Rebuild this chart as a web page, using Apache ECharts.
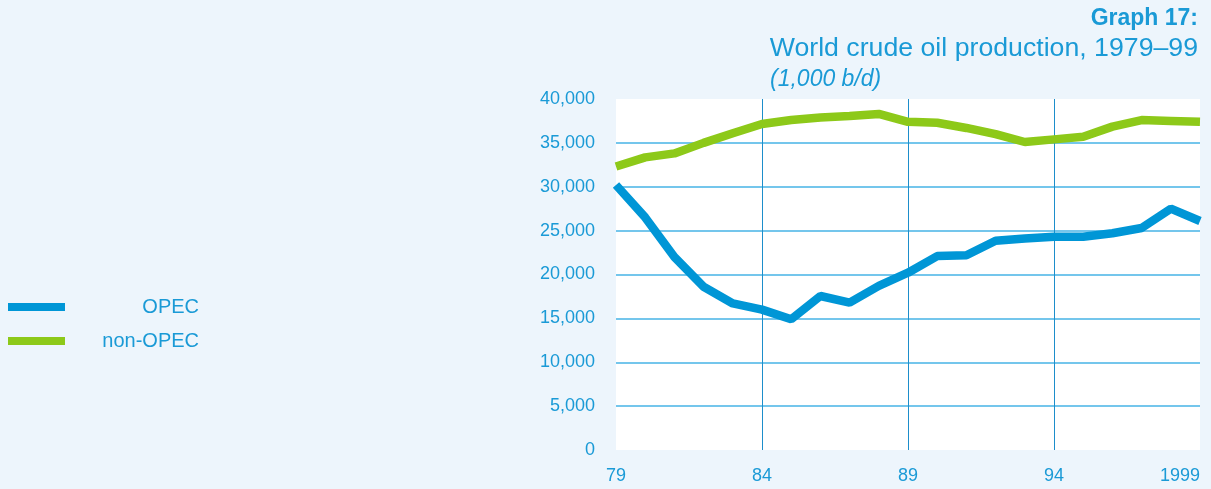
<!DOCTYPE html>
<html>
<head>
<meta charset="utf-8">
<script src="https://cdn.jsdelivr.net/npm/echarts@6/dist/echarts.min.js"></script>
<style>
html,body{margin:0;padding:0;background:#edf5fc;}
#chart{width:1211px;height:489px;}
</style>
</head>
<body>
<div id="chart"></div>
<script>
const years = [1979,1980,1981,1982,1983,1984,1985,1986,1987,1988,1989,1990,1991,1992,1993,1994,1995,1996,1997,1998,1999];
const opec = [30200,26500,22000,18600,16700,16000,14900,17550,16800,18700,20200,22100,22200,23850,24100,24300,24300,24700,25300,27500,26100];
const nonOpec = [32300,33350,33800,35000,36100,37150,37600,37900,38050,38300,37400,37300,36700,36000,35100,35400,35700,36850,37600,37500,37400];
const xTickYears = [1979,1984,1989,1994,1999];
const xTickLabels = ['79','84','89','94','1999'];
const seriesNames = ['OPEC','non-OPEC'];
const titleLines = ['Graph 17:','World crude oil production, 1979–99','(1,000 b/d)'];

const txt = '#1a9ad6';
const font = 'Liberation Sans, Arial, sans-serif';
const chart = echarts.init(document.getElementById('chart'));
chart.setOption({
  backgroundColor: '#edf5fc',
  animation: false,
  textStyle: {fontFamily: font},
  graphic: [
    {type:'text', right: 13, top: 7, style:{text: titleLines[0], fill: txt, font: 'bold 23px ' + font, textAlign:'right'}},
    {type:'text', right: 13, top: 35, style:{text: titleLines[1], fill: txt, font: '26.7px ' + font, textAlign:'right'}},
    {type:'text', left: 770, top: 68, style:{text: titleLines[2], fill: txt, font: 'italic 23px ' + font}}
  ],
  legend: {
    orient: 'vertical',
    left: 8,
    top: 297,
    padding: 0,
    itemWidth: 57,
    itemHeight: 8,
    itemGap: 14,
    icon: 'rect',
    data: seriesNames,
    formatter: '{r|{name}}',
    textStyle: {
      color: txt,
      fontSize: 20,
      fontFamily: font,
      rich: {r: {width: 129, align: 'right', fontSize: 20, color: txt, lineHeight: 21, fontFamily: font}}
    }
  },
  grid: {left: 616, right: 11, top: 99, bottom: 39, show: true, backgroundColor: '#ffffff', borderWidth: 0, outerBoundsMode: 'none', containLabel: false},
  xAxis: {
    type: 'value',
    min: 1979, max: 1999, interval: 5,
    axisLine: {show: false},
    axisTick: {show: false},
    axisLabel: {
      color: txt, fontSize: 18, margin: 17, fontFamily: font, alignMaxLabel: 'right',
      formatter: v => { const i = xTickYears.indexOf(v); return i >= 0 ? xTickLabels[i] : ''; }
    },
    splitLine: {show: true, showMinLine: false, showMaxLine: false, lineStyle: {color: '#1d8ecb', width: 1}}
  },
  yAxis: {
    type: 'value',
    min: 0, max: 40000, interval: 5000,
    axisLine: {show: false},
    axisTick: {show: false},
    axisLabel: {
      color: txt, fontSize: 18, margin: 21, fontFamily: font,
      formatter: v => v.toLocaleString('en-US')
    },
    splitLine: {show: true, showMinLine: false, showMaxLine: false, lineStyle: {color: '#74c6ec', width: 2}}
  },
  series: [
    {name: seriesNames[0], type: 'line', data: years.map((y,i)=>[y, opec[i]]), showSymbol: false, symbol: 'none',
     lineStyle: {color: '#0096d6', width: 8.5}, itemStyle: {color: '#0096d6'}, clip: true},
    {name: seriesNames[1], type: 'line', data: years.map((y,i)=>[y, nonOpec[i]]), showSymbol: false, symbol: 'none',
     lineStyle: {color: '#8dc919', width: 8.5}, itemStyle: {color: '#8dc919'}, clip: true}
  ]
});
</script>
</body>
</html>
